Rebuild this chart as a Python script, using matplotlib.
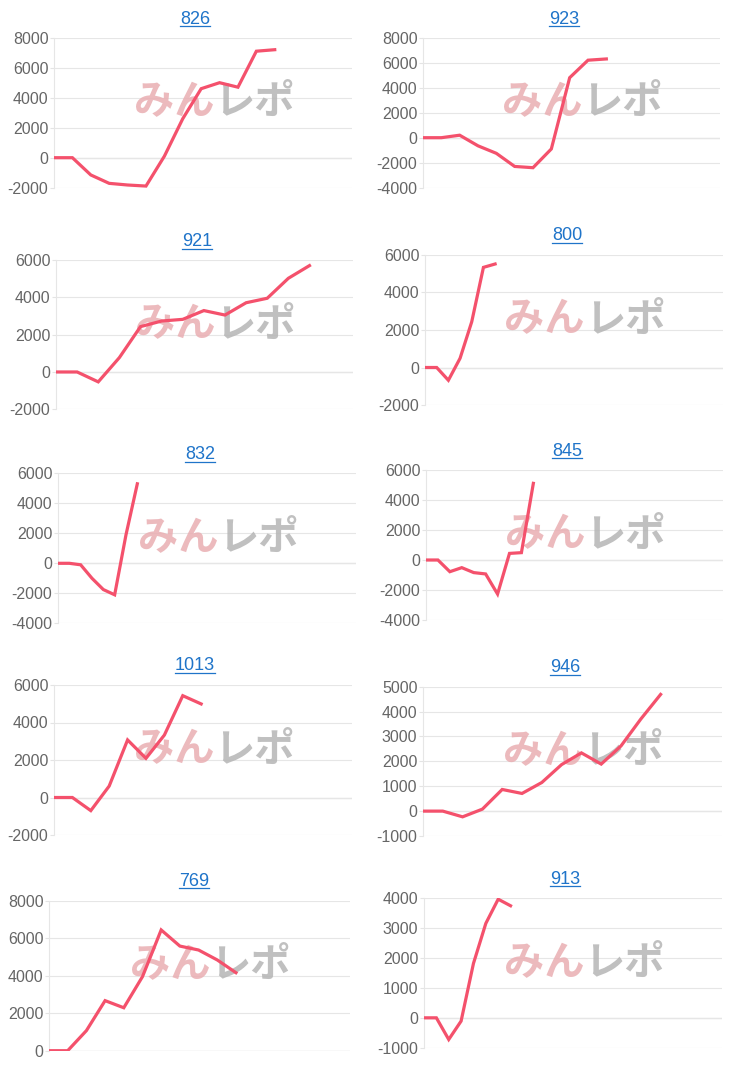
import numpy as np
import matplotlib
matplotlib.use("Agg")
import matplotlib.pyplot as plt
from matplotlib.lines import Line2D

plt.rcParams['font.family'] = ['Liberation Sans', 'Noto Sans CJK JP', 'DejaVu Sans']

# データ (台番号ごとの差枚推移)
titles = ["826", "923", "921", "800", "832", "845", "1013", "946", "769", "913"]

v826 = [0, 0, -1150, -1710, -1820, -1890, 100, 2600, 4600, 5000, 4700, 7100, 7200]
v923 = [0, 0, 200, -650, -1250, -2300, -2400, -900, 4800, 6200, 6300]
v921 = [0, 0, -530, 770, 2430, 2730, 2820, 3290, 3050, 3710, 3950, 5020, 5700]
v800 = [0, 0, -680, 490, 2440, 5340, 5520]
v832 = [0, 0, -100, -1000, -1750, -2100, 1900, 5300]
v845 = [0, 0, -780, -510, -840, -930, -2270, 440, 490, 5110]
v1013 = [0, 0, -700, 610, 3070, 2090, 3330, 5430, 4990]
v946 = [0, 0, -230, 80, 870, 710, 1150, 1870, 2340, 1890, 2620, 3700, 4690]
v769 = [0, 0, 1070, 2670, 2290, 3950, 6440, 5580, 5370, 4840, 4160]
v913 = [0, 0, -725, -110, 1820, 3160, 3970, 3750]
series = [v826, v923, v921, v800, v832, v845, v1013, v946, v769, v913]

yticks = [
    [-2000, 0, 2000, 4000, 6000, 8000],
    [-4000, -2000, 0, 2000, 4000, 6000, 8000],
    [-2000, 0, 2000, 4000, 6000],
    [-2000, 0, 2000, 4000, 6000],
    [-4000, -2000, 0, 2000, 4000, 6000],
    [-4000, -2000, 0, 2000, 4000, 6000],
    [-2000, 0, 2000, 4000, 6000],
    [-1000, 0, 1000, 2000, 3000, 4000, 5000],
    [0, 2000, 4000, 6000, 8000],
    [-1000, 0, 1000, 2000, 3000, 4000],
]

# レイアウト (ピクセル): left, right, top, bottom, x範囲, タイトルx, タイトルy
W, H = 740, 1076
layout = [
    (54, 352, 37.7, 187.7, 16.2, 195, 17),
    (423, 720, 37.7, 187.7, 16.2, 564, 17),
    (56, 353, 260, 409.3, 14.06, 197, 240),
    (425, 723, 255, 405, 25.5, 567, 234),
    (58, 356, 473.3, 623.3, 26.3, 200, 453),
    (426, 723, 470, 620, 24.9, 567, 449),
    (54, 352, 685, 835, 16.2, 195, 664),
    (423, 722, 686.7, 836, 15.1, 565, 666),
    (49, 350, 900.7, 1050.7, 16.1, 194, 879),
    (424, 722, 898.3, 1047.7, 24.1, 565, 877),
]

line_color = '#f4516c'
title_color = '#1f74c9'

fig = plt.figure(figsize=(W / 100, H / 100), dpi=100)
title_texts = []

for i in range(len(titles)):
    left, right, top, bottom, xr, tx, ty = layout[i]
    ax = fig.add_axes([left / W, 1 - bottom / H, (right - left) / W, (bottom - top) / H])
    y = series[i]
    ax.plot(np.arange(len(y)), y, color=line_color, lw=2.3, solid_joinstyle='miter', zorder=3)
    ax.set_xlim(0, xr)
    ax.set_ylim(yticks[i][0], yticks[i][-1])
    ax.set_yticks(yticks[i])
    ax.set_yticklabels([str(t) for t in yticks[i]])
    ax.set_xticks([])
    ax.tick_params(axis='y', length=3, color='#e4e4e4', pad=1, labelsize=11.5, labelcolor='#666666')
    ax.grid(axis='y', color='#e6e6e6', lw=0.8, zorder=0)
    ax.axhline(0, color='#b0b0b0', lw=0.8, zorder=1)
    for s in ['top', 'right', 'bottom']:
        ax.spines[s].set_visible(False)
    ax.spines['left'].set_color('#e6e6e6')
    ax.spines['left'].set_linewidth(0.8)

    # 透かし (線の下に描く)
    wx = (left + right) / 2 + 11
    wy = top + 65
    ax.text(wx / W, 1 - wy / H, "みん", ha='right', va='center', fontsize=29,
            fontweight='bold', color='#e9aeb2', alpha=0.85, zorder=2,
            family=['Noto Sans CJK JP'], transform=fig.transFigure)
    ax.text(wx / W, 1 - wy / H, "レポ", ha='left', va='center', fontsize=29,
            fontweight='bold', color='#b5b5b5', alpha=0.85, zorder=2,
            family=['Noto Sans CJK JP'], transform=fig.transFigure)

    t = fig.text(tx / W, 1 - (ty + 6.5) / H, titles[i], ha='center', va='baseline',
                 fontsize=13, color=title_color)
    title_texts.append((t, ty + 6.5))

# タイトルの下線
fig.canvas.draw()
r = fig.canvas.get_renderer()
for t, base in title_texts:
    bb = t.get_window_extent(r)
    yy = 1 - (base + 2) / H
    fig.add_artist(Line2D([bb.x0 / W, bb.x1 / W], [yy, yy], color=title_color, lw=0.9))

fig.savefig("out.png", dpi=100)
